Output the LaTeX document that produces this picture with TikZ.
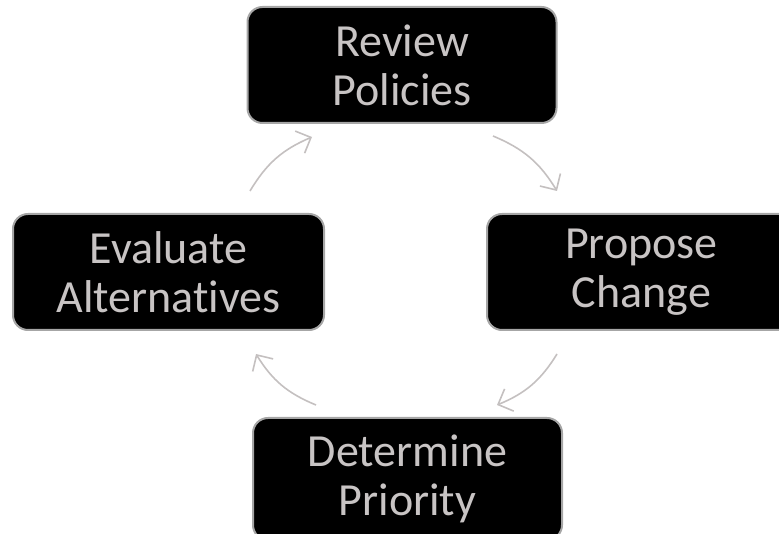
\documentclass[tikz,border=0pt]{standalone}
\usepackage{fontspec}
\setmainfont{Carlito}[Ligatures=NoCommon]
\usetikzlibrary{arrows.meta,positioning}
\definecolor{boxline}{RGB}{166,166,166}
\definecolor{boxtext}{RGB}{200,196,196}
\definecolor{cycline}{RGB}{196,192,192}
\tikzset{
  box/.style={draw=boxline, line width=2pt, fill=black, rounded corners=15pt,
    minimum width=309pt, minimum height=116pt, align=center, text=boxtext,
    font=\fontsize{46}{49}\selectfont, inner sep=0pt},
  cyc/.style={draw=cycline, line width=1.6pt, -{Straight Barb[length=12pt,width=24pt]}, bend left=18}
}

\begin{document}
\begin{tikzpicture}[x=1pt,y=1pt]
    \useasboundingbox (0,0) rectangle (779,533);
    \node [box] (review) at (402,468) {Review\\Policies};
    \node [box, minimum width=311pt] (evaluate) at (168.5,261) {Evaluate\\Alternatives};
    \node [box] (propose) at (641.5,261) {Propose\\Change};
    \node [box, minimum height=122pt] (determine) at (407.5,54) {Determine\\Priority};
    \draw [cyc] ([xshift=81.5pt,yshift=22pt]evaluate.north) to ([xshift=-90pt,yshift=-13pt]review.south);
    \draw [cyc] ([xshift=91pt,yshift=-12pt]review.south) to ([xshift=-84.5pt,yshift=22pt]propose.north);
    \draw [cyc] ([xshift=-84.5pt,yshift=-23pt]propose.south) to ([xshift=89.5pt,yshift=12pt]determine.north);
    \draw [cyc] ([xshift=-91.5pt,yshift=12pt]determine.north) to ([xshift=87.5pt,yshift=-23pt]evaluate.south);
\end{tikzpicture}
\end{document}
